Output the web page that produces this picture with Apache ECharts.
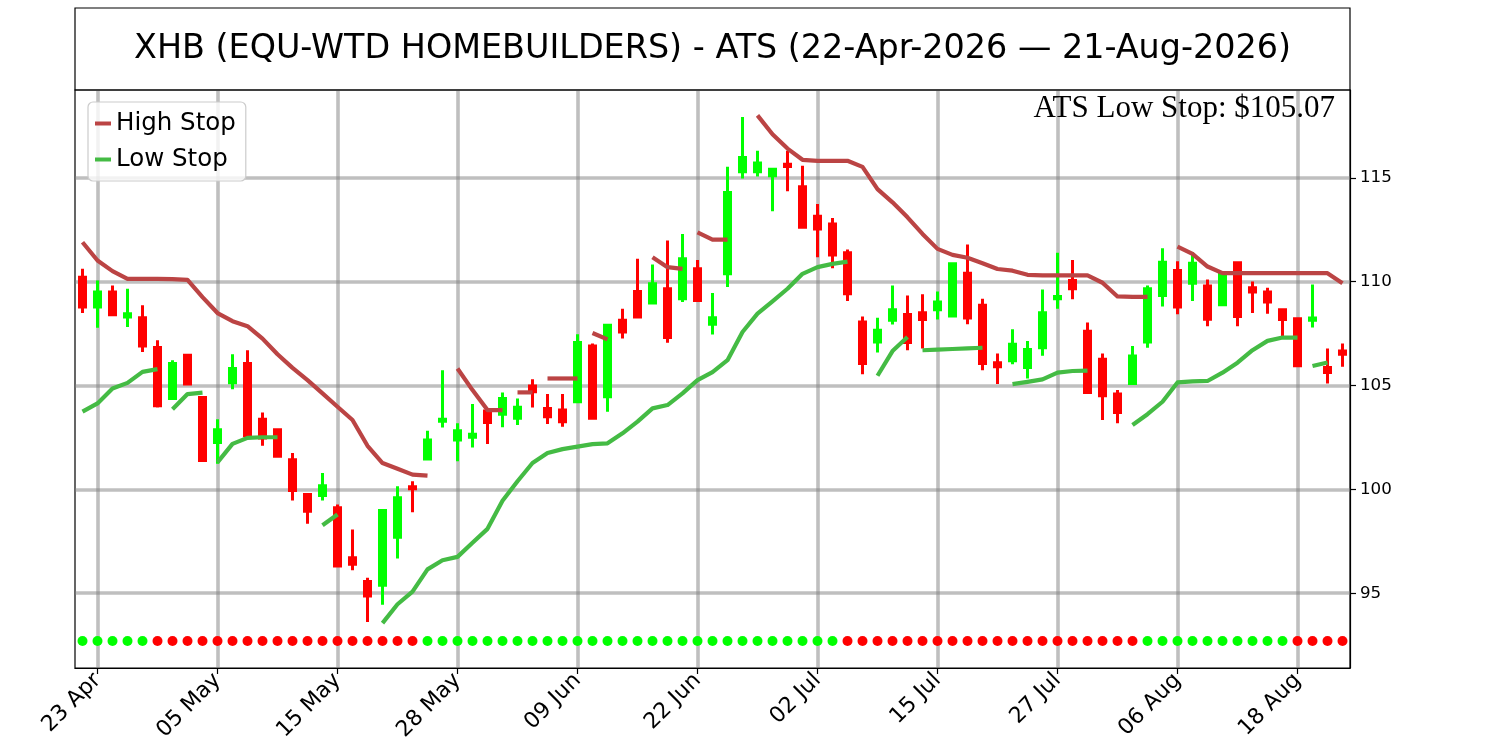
<!DOCTYPE html>
<html><head><meta charset="utf-8">
<script src="https://cdn.jsdelivr.net/npm/echarts@6/dist/echarts.min.js"></script>
<style>html,body{margin:0;padding:0;background:#fff}#c{width:1500px;height:750px}</style>
</head><body><div id="c"></div>
<script>
// ---- data ----
const dates = ['22 Apr','23 Apr','24 Apr','27 Apr','28 Apr','29 Apr','30 Apr','01 May','04 May','05 May',
  '06 May','07 May','08 May','11 May','12 May','13 May','14 May','15 May','18 May','19 May',
  '20 May','21 May','22 May','26 May','27 May','28 May','29 May','01 Jun','02 Jun','03 Jun',
  '04 Jun','05 Jun','08 Jun','09 Jun','10 Jun','11 Jun','12 Jun','15 Jun','16 Jun','17 Jun',
  '18 Jun','22 Jun','23 Jun','24 Jun','25 Jun','26 Jun','29 Jun','30 Jun','01 Jul','02 Jul',
  '06 Jul','07 Jul','08 Jul','09 Jul','10 Jul','13 Jul','14 Jul','15 Jul','16 Jul','17 Jul',
  '20 Jul','21 Jul','22 Jul','23 Jul','24 Jul','27 Jul','28 Jul','29 Jul','30 Jul','31 Jul',
  '03 Aug','04 Aug','05 Aug','06 Aug','07 Aug','10 Aug','11 Aug','12 Aug','13 Aug','14 Aug',
  '17 Aug','18 Aug','19 Aug','20 Aug','21 Aug'];

const opens = [110.22,108.78,109.50,108.30,108.27,106.83,104.38,106.46,104.42,102.26,
  105.14,106.06,103.38,102.87,101.43,99.75,99.71,99.11,96.71,95.56,
  95.38,97.70,100.13,101.46,103.28,102.38,102.51,103.78,103.62,103.42,
  104.98,103.90,103.82,104.22,106.90,104.46,108.14,109.53,108.97,109.66,
  109.18,110.62,107.95,110.38,115.29,115.29,115.10,115.66,114.57,113.15,
  112.78,111.39,108.06,107.10,108.14,108.42,108.51,108.65,108.35,110.41,
  108.86,106.10,106.19,105.87,106.82,109.18,110.06,107.62,106.26,104.59,
  105.10,107.10,109.34,110.54,109.93,109.79,108.89,110.91,109.71,109.50,
  108.65,108.22,108.14,105.87,106.66];
const closes = [108.78,109.50,108.41,108.46,106.90,104.03,106.06,105.07,101.39,102.87,
  105.82,102.58,102.47,101.59,99.95,98.95,100.18,96.31,96.39,94.87,
  98.98,99.60,100.03,102.38,103.38,102.82,102.66,103.22,104.38,103.95,
  104.70,103.50,103.26,107.07,103.42,107.90,107.58,108.30,109.90,107.31,
  111.10,109.10,108.27,114.30,115.98,115.71,115.42,115.55,112.62,112.54,
  111.29,109.42,106.06,107.66,108.65,107.07,108.18,109.02,110.86,108.25,
  106.06,105.90,106.99,106.74,108.51,109.29,109.66,104.66,104.51,103.70,
  106.42,109.66,110.94,108.78,110.89,108.19,110.38,108.33,109.50,109.02,
  108.18,105.95,108.25,105.63,106.51];
const lows = [108.49,107.78,108.38,107.82,106.62,103.94,104.35,105.02,101.35,101.23,
  104.82,102.55,102.10,101.55,99.47,98.34,99.47,96.28,96.11,93.62,
  94.44,96.67,98.90,101.44,102.98,101.35,102.02,102.18,102.99,103.10,
  103.94,103.15,103.02,104.20,103.38,103.74,107.26,108.28,108.95,107.06,
  109.02,109.02,107.46,109.74,114.97,115.07,113.39,114.35,112.57,111.18,
  110.65,109.07,105.54,106.59,107.94,106.70,106.78,108.18,108.35,107.95,
  105.74,105.07,106.03,105.34,106.43,108.70,109.15,104.64,103.34,103.18,
  105.08,106.82,108.81,108.43,109.07,107.86,108.87,107.86,108.49,108.46,
  107.31,105.93,107.79,105.10,105.90];
const highs = [110.62,110.06,109.82,109.66,108.86,107.18,106.22,106.51,104.45,103.38,
  106.51,106.70,103.70,102.90,101.75,99.80,100.79,99.27,98.07,95.75,
  98.98,100.15,100.39,102.82,105.74,103.18,104.11,103.80,104.67,104.38,
  105.30,104.59,104.59,107.47,107.02,107.95,108.70,111.10,110.83,111.98,
  112.30,111.05,109.46,115.53,117.93,116.30,115.44,116.30,115.58,113.74,
  113.07,111.55,108.33,108.27,109.82,109.34,109.39,109.53,110.86,111.79,
  109.18,106.54,107.71,107.14,109.63,111.39,111.05,108.03,106.54,104.78,
  106.90,109.82,111.61,110.99,111.42,110.11,110.46,110.93,110.01,109.71,
  108.70,108.25,109.87,106.78,107.02];

// stop lines as [startIndex, values] segments
const highStopSegs = [
  [0, [111.90,111.02,110.51,110.14,110.14,110.14,110.12,110.09,109.26,108.49,108.10,107.86,107.26,106.51,105.85,105.26,104.62,103.98,103.34,102.10,101.27,100.99,100.71,100.66]],
  [25, [105.82,104.78,103.82,103.82]],
  [29, [104.67,104.67]],
  [31, [105.34,105.34,105.34]],
  [34, [107.53,107.22]],
  [38, [111.18,110.70,110.62]],
  [41, [112.38,112.03,112.03]],
  [45, [118.01,117.10,116.41,115.87,115.82,115.82,115.82,115.53,114.46,113.82,113.10,112.30,111.58,111.29,111.15,110.89,110.61,110.53,110.33,110.30,110.30,110.30,110.30,109.95,109.29,109.27,109.27]],
  [73, [111.69,111.34,110.73,110.41,110.41,110.41,110.41,110.41,110.41,110.41,110.41,109.93]]
];
const lowStopSegs = [
  [0, [103.74,104.14,104.86,105.13,105.66,105.79]],
  [6, [103.86,104.59,104.66]],
  [9, [101.30,102.19,102.48,102.51,102.51]],
  [16, [98.27,98.79]],
  [20, [93.56,94.47,95.08,96.15,96.59,96.75,97.43,98.10,99.45,100.39,101.27,101.75,101.94,102.06,102.18,102.22,102.70,103.26,103.90,104.06,104.62,105.26,105.65,106.22,107.58,108.46,109.05,109.66,110.38,110.70,110.86,110.97]],
  [53, [105.47,106.66,107.34]],
  [56, [106.70,106.73,106.76,106.79,106.82]],
  [62, [105.07,105.18,105.30,105.62,105.70,105.72]],
  [70, [103.10,103.62,104.22,105.15,105.20,105.22,105.62,106.10,106.70,107.15,107.31,107.31]],
  [82, [105.94,106.11]]
];

// trend state dots: 1 = bullish (green), 0 = bearish (red)
const trendState = [1,1,1,1,1,
  0,0,0,0,0,0,0,0,0,0,0,0,0,0,0,0,0,0,
  1,1,1,1,1,1,1,1,1,1,1,1,1,1,1,1,1,1,1,1,1,1,1,1,1,1,1,1,
  0,0,0,0,0,0,0,0,0,0,0,0,0,0,0,0,0,0,0,0,
  1,1,1,1,1,1,1,1,1,1,
  0,0,0,0];
const dotLevel = 92.7;

const yTicks = [95, 100, 105, 110, 115];
const xLabelIdx = [1, 9, 17, 25, 33, 41, 49, 57, 65, 73, 81];
const titleText = 'XHB (EQU-WTD HOMEBUILDERS) - ATS (22-Apr-2026 \u2014 21-Aug-2026)';
const noteText = 'ATS Low Stop: $105.07';

// ---- chart ----
const UP = '#00ff00', DOWN = '#ff0000';
const HIGH_C = '#bb4444', LOW_C = '#44bb44';
const FONT = '"DejaVu Sans", sans-serif';
const chart = echarts.init(document.getElementById('c'), null, {renderer: 'canvas', width: 1500, height: 750});

function segData(seg) {
  const arr = new Array(dates.length).fill(null);
  seg[1].forEach((v, k) => { arr[seg[0] + k] = v; });
  return arr;
}
const candleData = dates.map((d, i) => [opens[i], closes[i], lows[i], highs[i]]);
const dotData = trendState.map((s, i) => ({value: [i, dotLevel], itemStyle: {color: s ? UP : DOWN, opacity: 1}}));
const showIdx = (idx) => xLabelIdx.indexOf(idx) >= 0;

const series = [];
series.push({
  type: 'line', name: 'grid', data: dates.map(() => null), silent: true, z: 1,
  markLine: {
    silent: true, z: 1, symbol: ['none', 'none'], animation: false,
    label: {show: false},
    lineStyle: {color: 'rgba(128,128,128,0.5)', width: 3.6, type: 'solid'},
    emphasis: {disabled: true},
    data: yTicks.map(v => ({yAxis: v})).concat(xLabelIdx.map(i => ({xAxis: dates[i]})))
  }
});
series.push({
  type: 'candlestick', name: 'Price', data: candleData, z: 2, barWidth: 7,
  itemStyle: {color: UP, color0: DOWN, borderColor: UP, borderColor0: DOWN, borderWidth: 3}
});
highStopSegs.forEach(seg => series.push({
  type: 'line', name: 'High Stop', data: segData(seg), z: 3, symbol: 'none', connectNulls: false,
  itemStyle: {color: HIGH_C}, lineStyle: {color: HIGH_C, width: 4.2, cap: 'butt', join: 'round'}
}));
lowStopSegs.forEach(seg => series.push({
  type: 'line', name: 'Low Stop', data: segData(seg), z: 3, symbol: 'none', connectNulls: false,
  itemStyle: {color: LOW_C}, lineStyle: {color: LOW_C, width: 4.2, cap: 'butt', join: 'round'}
}));
series.push({
  type: 'scatter', name: 'State', data: dotData, symbol: 'circle', symbolSize: 10, z: 4,
  itemStyle: {opacity: 1}
});

chart.setOption({
  animation: false,
  backgroundColor: '#fff',
  textStyle: {fontFamily: FONT},
  grid: {left: 75, right: 150, top: 90, bottom: 82, show: true, borderColor: '#000', borderWidth: 1.2, backgroundColor: 'transparent'},
  legend: {
    data: [{name: 'High Stop', icon: 'rect'}, {name: 'Low Stop', icon: 'rect'}],
    orient: 'vertical', left: 88, top: 102,
    itemWidth: 16, itemHeight: 4, itemGap: 11,
    padding: [9, 10, 9, 7],
    borderColor: '#cccccc', borderWidth: 1.2, borderRadius: 5,
    backgroundColor: 'rgba(255,255,255,0.8)',
    textStyle: {fontFamily: FONT, fontSize: 24.5, color: '#000', lineHeight: 25},
    selectedMode: false
  },
  xAxis: {
    type: 'category', data: dates, boundaryGap: true,
    axisLine: {show: true, lineStyle: {color: '#000', width: 1.2}},
    axisTick: {show: true, alignWithLabel: true, interval: showIdx, length: 6, lineStyle: {color: '#000', width: 1.2}},
    axisLabel: {interval: showIdx, rotate: 45, fontSize: 22, color: '#000', margin: 9, fontFamily: FONT},
    splitLine: {show: false}
  },
  yAxis: {
    type: 'value', position: 'right', min: 91.4, max: 119.23, scale: true,
    axisLine: {show: true, lineStyle: {color: '#000', width: 1.2}},
    axisTick: {show: true, length: 6, customValues: yTicks, lineStyle: {color: '#000', width: 1.2}},
    axisLabel: {show: true, customValues: yTicks, fontSize: 16.7, color: '#000', margin: 10, fontFamily: FONT},
    splitLine: {show: false}
  },
  graphic: [
    {type: 'rect', z: 10, shape: {x: 75, y: 8, width: 1275, height: 82}, style: {fill: 'none', stroke: '#000', lineWidth: 1.2}},
    {type: 'text', x: 712.5, y: 49, z: 10, style: {text: titleText, font: '33.4px "DejaVu Sans"', fill: '#000', align: 'center', verticalAlign: 'middle'}},
    {type: 'text', x: 1335, y: 109, z: 10, style: {text: noteText, font: '31px "Liberation Serif"', fill: '#000', align: 'right', verticalAlign: 'middle'}}
  ],
  series: series
});
</script></body></html>
